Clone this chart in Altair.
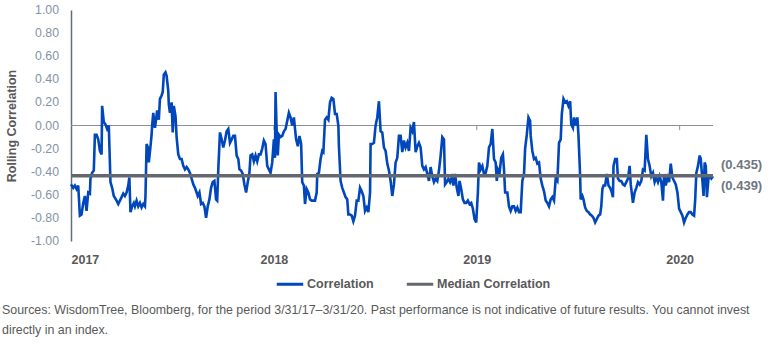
import altair as alt
import pandas as pd

START = "2017-01-01"
END_DAY = 1155

# Rolling correlation (day offset from START, value)
DAYS_1 = [0, 4, 7, 10, 13, 16, 19, 22, 25, 28, 31, 34, 35, 38, 41, 43, 46, 49, 52, 55,
          56, 59, 62, 65, 68, 71, 74, 77, 82, 85, 88, 91, 94, 97, 100, 103, 105, 107, 110, 113,
          115, 118, 121, 124, 127, 130, 133, 134, 136, 139, 140, 143, 145, 146, 148, 151, 153, 155, 158, 160,
          163, 165, 167, 170, 172, 175, 176, 178, 181, 183, 185, 188, 190, 193, 196, 199, 202, 205, 208, 211,
          214, 217, 220, 223, 226]
CORR_1 = [-0.51, -0.54, -0.52, -0.55, -0.52, -0.78, -0.77, -0.67, -0.61, -0.74,
          -0.58, -0.59, -0.46, -0.41, -0.39, -0.08, -0.08, -0.12, -0.22, -0.25,
          0.17, 0.03, 0.01, -0.03, 0.00, -0.49, -0.54, -0.61, -0.65, -0.68,
          -0.65, -0.62, -0.59, -0.61, -0.58, -0.52, -0.45, -0.75, -0.70, -0.67,
          -0.70, -0.65, -0.70, -0.67, -0.71, -0.68, -0.70, -0.61, -0.16, -0.20,
          -0.32, -0.18, -0.08, 0.00, 0.11, -0.02, 0.05, 0.13, 0.05, 0.23,
          0.26, 0.29, 0.44, 0.46, 0.43, 0.30, 0.18, 0.11, 0.20, -0.06,
          0.17, 0.08, -0.10, -0.25, -0.29, -0.29, -0.35, -0.38, -0.36, -0.38,
          -0.41, -0.46, -0.51, -0.54, -0.58]

DAYS_2 = [228, 231, 234, 237, 240, 243, 246, 249, 252, 255, 258, 261, 263, 265, 268, 271, 274, 277, 280, 283,
          286, 289, 292, 295, 298, 301, 303, 306, 309, 312, 315, 318, 321, 323, 326, 329, 332, 335, 338, 341,
          344, 347, 350, 353, 356, 359, 362, 365, 367, 368, 370, 372, 374, 377, 380, 383, 386, 389, 392, 395,
          398, 401, 403, 405, 408, 411, 414, 416, 419, 421, 424, 427, 430, 433, 436, 439, 442, 443, 446, 449,
          452, 454, 457, 460]
CORR_2 = [-0.61, -0.58, -0.68, -0.67, -0.70, -0.80, -0.70, -0.64, -0.54, -0.49,
          -0.48, -0.64, -0.65, -0.38, -0.06, -0.12, -0.19, -0.13, -0.05, -0.03,
          -0.15, -0.12, -0.09, -0.09, -0.26, -0.29, -0.38, -0.39, -0.42, -0.51,
          -0.58, -0.49, -0.41, -0.26, -0.25, -0.31, -0.26, -0.31, -0.25, -0.25,
          -0.20, -0.13, -0.16, -0.35, -0.38, -0.41, -0.32, -0.12, -0.28, 0.29,
          -0.05, -0.26, -0.08, -0.10, -0.09, -0.05, -0.03, 0.04, 0.11, 0.07,
          0.00, 0.07, -0.03, -0.12, -0.18, -0.09, -0.16, -0.49, -0.52, -0.68,
          -0.55, -0.58, -0.64, -0.65, -0.65, -0.65, -0.58, -0.42, -0.41, -0.29,
          -0.22, -0.23, 0.05, 0.07]

DAYS_3 = [463, 466, 469, 472, 475, 478, 481, 482, 485, 488, 491, 494, 497, 499, 502, 505, 508, 511, 514, 517,
          520, 523, 526, 529, 532, 535, 538, 539, 542, 545, 548, 551, 554, 557, 560, 563, 566, 569, 572, 575,
          578, 581, 584, 587, 590, 593, 596, 599, 602, 605, 608, 611, 614, 617, 620, 623, 626, 629, 632, 635,
          638, 641, 644, 647, 650, 653, 656, 659, 662, 665, 668, 671, 673, 676, 679, 682, 685, 688]
CORR_3 = [0.05, 0.20, 0.24, 0.23, 0.10, 0.10, 0.00, -0.18, -0.48, -0.54,
          -0.58, -0.62, -0.64, -0.77, -0.77, -0.78, -0.83, -0.78, -0.65, -0.65,
          -0.54, -0.57, -0.61, -0.74, -0.71, -0.75, -0.58, -0.16, -0.16, -0.15,
          0.00, 0.07, 0.21, -0.05, -0.06, -0.19, -0.22, -0.33, -0.39, -0.48,
          -0.61, -0.51, -0.32, -0.28, -0.09, -0.09, -0.23, -0.13, -0.19, -0.15,
          -0.22, -0.02, -0.05, 0.03, -0.23, -0.18, -0.15, -0.19, -0.35, -0.38,
          -0.36, -0.42, -0.48, -0.36, -0.44, -0.49, -0.46, -0.48, -0.39, -0.26,
          -0.10, -0.12, -0.51, -0.49, -0.46, -0.49, -0.45, -0.52]

DAYS_4 = [691, 694, 697, 699, 702, 705, 708, 711, 714, 717, 720, 723, 726, 729, 732, 734, 737, 740, 743, 746,
          749, 752, 755, 758, 761, 764, 766, 768, 771, 774, 777, 779, 781, 785, 788, 791, 794, 797, 800, 803,
          806, 809, 812, 815, 817, 820, 823, 826, 827, 830, 833, 836, 839, 842, 845, 848, 851, 854, 857, 860,
          863, 866, 869, 872, 875, 878, 881, 883, 886, 889, 892, 895, 898, 900, 903, 905, 908, 911, 913, 916,
          917, 920]
CORR_4 = [-0.42, -0.54, -0.61, -0.48, -0.55, -0.64, -0.67, -0.67, -0.65, -0.68,
          -0.67, -0.72, -0.81, -0.84, -0.58, -0.32, -0.38, -0.35, -0.42, -0.41,
          -0.35, -0.19, -0.16, -0.03, -0.29, -0.32, -0.48, -0.38, -0.41, -0.28,
          -0.25, -0.38, -0.58, -0.58, -0.70, -0.74, -0.70, -0.70, -0.74, -0.71,
          -0.75, -0.75, -0.48, -0.42, -0.20, -0.08, 0.07, 0.04, -0.09, -0.22,
          -0.29, -0.28, -0.33, -0.32, -0.46, -0.52, -0.57, -0.65, -0.67, -0.70,
          -0.64, -0.62, -0.65, -0.46, -0.48, -0.15, -0.12, 0.10, 0.23, 0.20,
          0.21, 0.17, 0.21, 0.01, -0.02, 0.07, 0.00, 0.07, -0.09, -0.44,
          -0.64, -0.61]

DAYS_5 = [922, 925, 928, 931, 934, 937, 940, 943, 946, 949, 952, 954, 956, 958, 961, 964, 967, 970, 973, 975,
          976, 979, 982, 984, 987, 990, 993, 996, 999, 1002, 1005, 1007, 1009, 1011, 1014, 1017, 1020, 1023, 1026, 1029,
          1032, 1035, 1038, 1041, 1044, 1047, 1050, 1053, 1056, 1059, 1062, 1065, 1067, 1070, 1073, 1076, 1079, 1082, 1085, 1088,
          1091, 1094, 1097, 1100, 1103, 1106, 1109, 1112, 1115, 1118, 1121, 1123, 1125, 1128, 1131, 1133, 1136, 1138, 1140, 1142,
          1144, 1147, 1149, 1152, 1155]
CORR_5 = [-0.64, -0.71, -0.74, -0.75, -0.77, -0.78, -0.80, -0.84, -0.81, -0.78,
          -0.77, -0.70, -0.55, -0.52, -0.52, -0.42, -0.52, -0.54, -0.58, -0.62,
          -0.35, -0.29, -0.29, -0.46, -0.48, -0.48, -0.51, -0.52, -0.49, -0.46,
          -0.35, -0.51, -0.59, -0.67, -0.58, -0.54, -0.49, -0.51, -0.48, -0.38,
          -0.39, -0.08, -0.29, -0.35, -0.44, -0.41, -0.49, -0.45, -0.49, -0.44,
          -0.49, -0.65, -0.42, -0.52, -0.45, -0.49, -0.33, -0.45, -0.48, -0.51,
          -0.58, -0.72, -0.75, -0.78, -0.84, -0.80, -0.77, -0.75, -0.75, -0.77,
          -0.78, -0.64, -0.41, -0.35, -0.26, -0.29, -0.48, -0.61, -0.32, -0.35,
          -0.62, -0.45, -0.44, -0.46, -0.44]

MEDIAN = -0.435
LAST = -0.439
ANNOT = ["(0.435)", "(0.439)"]
YEARS = [2017, 2018, 2019, 2020]
Y_TICKS = [-1.0, -0.8, -0.6, -0.4, -0.2, 0.0, 0.2, 0.4, 0.6, 0.8, 1.0]
Y_LABELS = ["-1.00", "-0.80", "-0.60", "-0.40", "-0.20", "0.00", "0.20", "0.40", "0.60", "0.80", "1.00"]
SERIES = ["Correlation", "Median Correlation"]
COLORS = ["#0047BB", "#636870"]
SOURCE = [
    "Sources: WisdomTree, Bloomberg, for the period 3/31/17\u20133/31/20. Past performance is not indicative of future results. You cannot invest",
    "directly in an index.",
]

FONT = "Liberation Sans"
TXT = "#595959"

days = DAYS_1 + DAYS_2 + DAYS_3 + DAYS_4 + DAYS_5
vals = CORR_1 + CORR_2 + CORR_3 + CORR_4 + CORR_5
start = pd.Timestamp(START)
corr_df = pd.DataFrame({
    "date": start + pd.to_timedelta(days, unit="D"),
    "value": vals,
    "series": SERIES[0],
})
med_df = pd.DataFrame({
    "date": [start, start + pd.Timedelta(days=END_DAY)],
    "value": [MEDIAN, MEDIAN],
    "series": SERIES[1],
})
tick_df = pd.DataFrame({"date": [pd.Timestamp(year=y, month=1, day=1) for y in YEARS[1:]]})
ylab_df = pd.DataFrame({"v": Y_TICKS, "label": Y_LABELS})

x_scale = alt.Scale(domain=[alt.DateTime(year=2017, month=1, date=1),
                            alt.DateTime(year=2020, month=3, date=1)])
y_scale = alt.Scale(domain=[-1, 1], nice=False, zero=False)

x_axis = alt.Axis(
    values=[alt.DateTime(year=y, month=1, date=1) for y in YEARS], format="%Y",
    title=None, grid=False, domain=False, ticks=False,
    labelFont=FONT, labelFontWeight="bold", labelFontSize=12.5, labelColor=TXT,
    labelPadding=12, labelOverlap=False)
y_axis = alt.Axis(
    labels=False, grid=False, ticks=False, domainColor="#646C76", domainWidth=1.5,
    title="Rolling Correlation", titleFont=FONT, titleFontWeight="bold",
    titleColor=TXT, titleFontSize=12.5, titlePadding=53)


def yd(v):
    return alt.Y(datum=v, scale=y_scale, axis=y_axis)


x_enc = alt.X("date:T", scale=x_scale, axis=x_axis)
y_enc = alt.Y("value:Q", scale=y_scale, axis=y_axis)
color_enc = alt.Color("series:N", scale=alt.Scale(domain=SERIES, range=COLORS),
                      legend=alt.Legend(orient="none", legendX=204, legendY=259,
                                        direction="horizontal", title=None,
                                        symbolType="stroke", symbolStrokeWidth=3,
                                        symbolSize=700, labelFont=FONT,
                                        labelFontWeight="bold", labelFontSize=12.5,
                                        labelColor=TXT, columnPadding=26, labelOffset=2))

zero = alt.Chart(corr_df).mark_rule(color="#8C9198", strokeWidth=1).encode(y=yd(0))
ticks = alt.Chart(tick_df).mark_rule(color="#8C9198", strokeWidth=1).encode(
    x=x_enc, y=yd(0), y2=alt.datum(-0.04))
ylabels = alt.Chart(ylab_df).mark_text(
    align="right", baseline="middle", font=FONT, fontSize=12.3, color="#8193A8").encode(
    text="label:N", x=alt.value(-12), y=alt.Y("v:Q", scale=y_scale, axis=y_axis))
line = alt.Chart(corr_df).mark_line(strokeWidth=2.6).encode(x=x_enc, y=y_enc, color=color_enc)
med = alt.Chart(med_df).mark_line(strokeWidth=3.5).encode(x=x_enc, y=y_enc, color=color_enc)

ann1 = alt.Chart(pd.DataFrame({"t": [ANNOT[0]]})).mark_text(
    align="left", baseline="middle", dy=-11, font=FONT, fontWeight="bold", fontSize=13,
    color="#6E7681").encode(text="t:N", x=alt.value(650), y=yd(MEDIAN))
ann2 = alt.Chart(pd.DataFrame({"t": [ANNOT[1]]})).mark_text(
    align="left", baseline="middle", dy=10, font=FONT, fontWeight="bold", fontSize=13,
    color="#6E7681").encode(text="t:N", x=alt.value(650), y=yd(LAST))

src1 = alt.Chart(pd.DataFrame({"t": [SOURCE[0]]})).mark_text(
    align="left", baseline="middle", font=FONT, fontSize=12.4, color=TXT).encode(
    text="t:N", x=alt.value(-69), y=alt.value(300))
src2 = alt.Chart(pd.DataFrame({"t": [SOURCE[1]]})).mark_text(
    align="left", baseline="middle", font=FONT, fontSize=12.4, color=TXT).encode(
    text="t:N", x=alt.value(-69), y=alt.value(320))

chart = alt.layer(zero, ticks, ylabels, line, med, ann1, ann2, src1, src2).properties(
    width=642, height=231,
    autosize=alt.AutoSizeParams(type="none"),
    padding={"left": 71, "top": 10, "right": 58, "bottom": 105},
    background="white",
).configure_view(stroke=None)

chart.save("out.html", embed_options={"renderer": "svg", "actions": False})
